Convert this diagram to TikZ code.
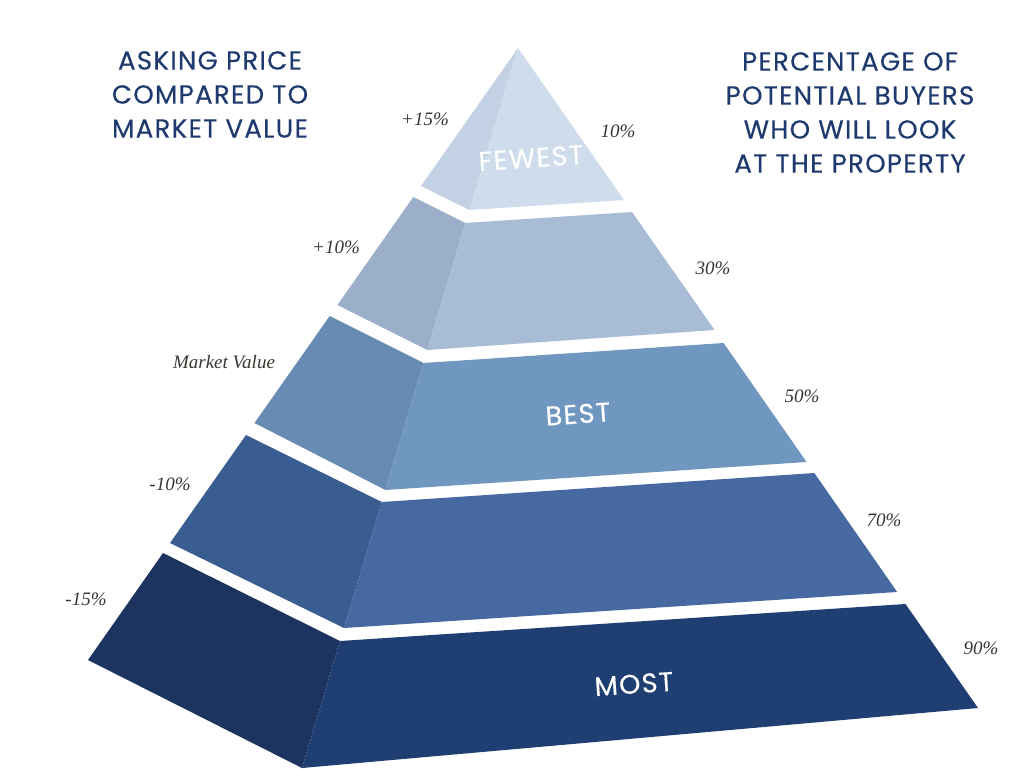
\documentclass[tikz,border=0pt]{standalone}
\usepackage{fontspec}
\newfontfamily\headfont{Poppins}[LetterSpace=5,FakeBold=0.4]
\newfontfamily\labfont{Liberation Serif}
\definecolor{navy}{HTML}{1F3A6E}
\definecolor{labgray}{HTML}{3A3530}
\definecolor{tAf}{HTML}{CEDCEB}\definecolor{tAl}{HTML}{C2D2E4}
\definecolor{tBf}{HTML}{A9BCD6}\definecolor{tBl}{HTML}{9CAFCA}
\definecolor{tCf}{HTML}{7097BF}\definecolor{tCl}{HTML}{678BB2}
\definecolor{tDf}{HTML}{4669A2}\definecolor{tDl}{HTML}{3A5D91}
\definecolor{tEf}{HTML}{1F3F72}\definecolor{tEl}{HTML}{1D3461}
\begin{document}
\begin{tikzpicture}[x=1pt,y=-1pt,
  head/.style={font=\headfont\fontsize{26}{34}\selectfont, text=navy, align=center, inner sep=0pt, anchor=north},
  pct/.style={font=\labfont\itshape\fontsize{19}{21}\selectfont, text=labgray, inner sep=0pt},
  tierlab/.style={font=\headfont\fontsize{27}{30}\selectfont, text=white, inner sep=0pt, rotate=4}]
\useasboundingbox (0,0) rectangle (1024,768);
% corners
\coordinate (A) at (518,48);
\coordinate (L1b) at (421,186); \coordinate (F1b) at (469.4,210); \coordinate (R1b) at (624,200);
\coordinate (L2t) at (413.3,197); \coordinate (F2t) at (465.5,223); \coordinate (R2t) at (632,212);
\coordinate (L2b) at (337.4,305); \coordinate (F2b) at (427.4,350); \coordinate (R2b) at (714.6,330);
\coordinate (L3t) at (329.7,316); \coordinate (F3t) at (423.5,363); \coordinate (R3t) at (723.6,343);
\coordinate (L3b) at (254.5,423); \coordinate (F3b) at (385.4,490); \coordinate (R3b) at (806.6,462);
\coordinate (L4t) at (246,435); \coordinate (F4t) at (381.8,502); \coordinate (R4t) at (814.3,473);
\coordinate (L4b) at (170,543); \coordinate (F4b) at (344,628); \coordinate (R4b) at (897.2,592);
\coordinate (L5t) at (163,553); \coordinate (F5t) at (340,641); \coordinate (R5t) at (905.5,604);
\coordinate (L5b) at (88,660); \coordinate (F5b) at (302,768); \coordinate (R5b) at (978,708);
% tier 1
\fill[tAl] (A) -- (F1b) -- (L1b) -- cycle;
\fill[tAf] (A) -- (R1b) -- (F1b) -- cycle;
% tier 2
\fill[tBl] (L2t) -- (F2t) -- (F2b) -- (L2b) -- cycle;
\fill[tBf] (F2t) -- (R2t) -- (R2b) -- (F2b) -- cycle;
% tier 3
\fill[tCl] (L3t) -- (F3t) -- (F3b) -- (L3b) -- cycle;
\fill[tCf] (F3t) -- (R3t) -- (R3b) -- (F3b) -- cycle;
% tier 4
\fill[tDl] (L4t) -- (F4t) -- (F4b) -- (L4b) -- cycle;
\fill[tDf] (F4t) -- (R4t) -- (R4b) -- (F4b) -- cycle;
% tier 5
\fill[tEl] (L5t) -- (F5t) -- (F5b) -- (L5b) -- cycle;
\fill[tEf] (F5t) -- (R5t) -- (R5b) -- (F5b) -- cycle;
% tier labels
\node[tierlab] (fewest) at (531,158) {FEWEST};
\node[tierlab] (best) at (578,414) {BEST};
\node[tierlab] (most) at (634,684) {MOST};
% headings
\node[head] (hleft) at (210,51) {ASKING PRICE\\COMPARED TO\\MARKET VALUE};
\node[head] (hright) at (850,52) {PERCENTAGE OF\\POTENTIAL BUYERS\\WHO WILL LOOK\\AT THE PROPERTY};
% price labels
\node[pct] (p15) at (425,119) {+15\%};
\node[pct] (p10) at (336,247) {+10\%};
\node[pct] (pmv) at (224,362) {Market Value};
\node[pct] (m10) at (170,484) {-10\%};
\node[pct] (m15) at (86,599) {-15\%};
% buyer labels
\node[pct] (b10) at (618,131) {10\%};
\node[pct] (b30) at (713,268) {30\%};
\node[pct] (b50) at (802,396) {50\%};
\node[pct] (b70) at (884,520) {70\%};
\node[pct] (b90) at (981,648) {90\%};
\end{tikzpicture}
\end{document}
